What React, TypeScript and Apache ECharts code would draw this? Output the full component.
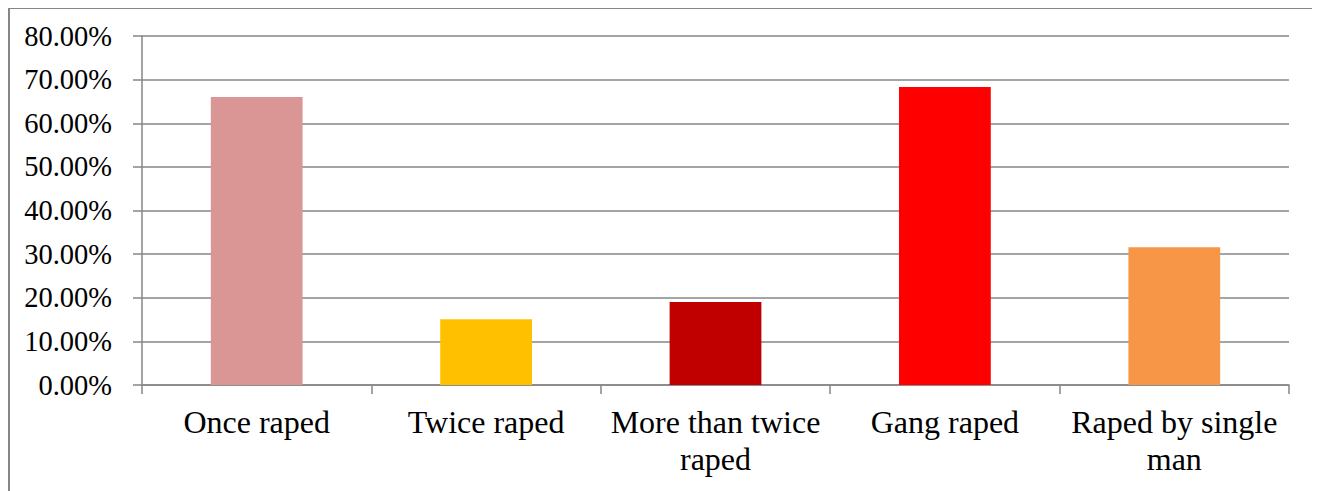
import React, { useEffect, useRef } from "react";
import * as echarts from "echarts";

const categories = [
  "Once raped",
  "Twice raped",
  "More than twice\nraped",
  "Gang raped",
  "Raped by single\nman",
];
const values = [66.0, 15.1, 19.0, 68.3, 31.6];
const colors = ["#D99694", "#FFC000", "#C00000", "#FF0000", "#F79646"];

const FONT = '"Liberation Serif", "Times New Roman", serif';
const GRAY = "#868686";

export default function App() {
  const ref = useRef<HTMLDivElement>(null);
  useEffect(() => {
    if (!ref.current) return;
    const chart = echarts.init(ref.current, undefined, { renderer: "svg" });
    chart.setOption({
      animation: false,
      grid: { left: 132, width: 1147, top: 27, height: 349 },
      xAxis: {
        type: "category",
        data: categories,
        boundaryGap: true,
        axisLine: { show: true, lineStyle: { color: GRAY, width: 1.5 } },
        axisTick: { show: true, length: 9, interval: 0, lineStyle: { color: GRAY, width: 1.5 } },
        axisLabel: {
          interval: 0,
          color: "#000",
          fontFamily: FONT,
          fontSize: 32,
          lineHeight: 37,
          margin: 18,
        },
      },
      yAxis: {
        type: "value",
        min: 0,
        max: 80,
        interval: 10,
        axisLine: { show: true, lineStyle: { color: GRAY, width: 1.5 } },
        axisTick: { show: true, length: 9, lineStyle: { color: GRAY, width: 1.5 } },
        splitLine: { show: true, lineStyle: { color: GRAY, width: 1.5 } },
        axisLabel: {
          color: "#000",
          fontFamily: FONT,
          fontSize: 28.5,
          margin: 30,
          formatter: (v: number) => v.toFixed(2) + "%",
        },
      },
      series: [
        {
          type: "bar",
          barWidth: "40%",
          data: values.map((v, i) => ({ value: v, itemStyle: { color: colors[i] } })),
        },
      ],
    });
    return () => chart.dispose();
  }, []);
  return (
    <div
      style={{
        width: 1306,
        height: 500,
        marginTop: -1,
        border: `2px solid ${GRAY}`,
        overflow: "hidden",
        background: "#fff",
      }}
    >
      <div ref={ref} style={{ width: 1306, height: 490 }} />
    </div>
  );
}
